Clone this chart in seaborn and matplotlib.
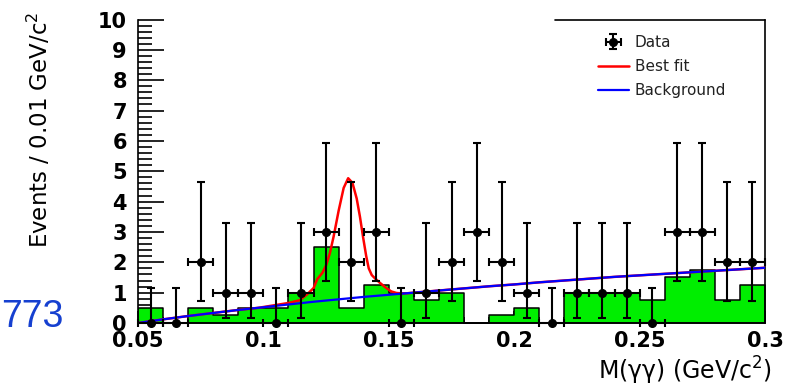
import numpy as np
import matplotlib
matplotlib.use('Agg')
import matplotlib.pyplot as plt
import seaborn as sns
from matplotlib.ticker import MultipleLocator

# ---------------- data ----------------
bin_centers = [0.055, 0.065, 0.075, 0.085, 0.095, 0.105, 0.115, 0.125, 0.135,
               0.145, 0.155, 0.165, 0.175, 0.185, 0.195, 0.205, 0.215, 0.225,
               0.235, 0.245, 0.255, 0.265, 0.275, 0.285, 0.295]
data_counts = [0, 0, 2, 1, 1, 0, 1, 3, 2, 3, 0, 1, 2, 3, 2, 1, 0, 1, 1, 1, 0, 3, 3, 2, 2]
err_lo = [0.0, 0.0, 1.29, 0.83, 0.83, 0.0, 0.83, 1.63, 1.29, 1.63, 0.0, 0.83, 1.29,
          1.63, 1.29, 0.83, 0.0, 0.83, 0.83, 0.83, 0.0, 1.63, 1.63, 1.29, 1.29]
err_hi = [1.15, 1.15, 2.64, 2.30, 2.30, 1.15, 2.30, 2.92, 2.64, 2.92, 1.15, 2.30, 2.64,
          2.92, 2.64, 2.30, 1.15, 2.30, 2.30, 2.30, 1.15, 2.92, 2.92, 2.64, 2.64]
mc_counts = [0.5, 0.0, 0.5, 0.25, 0.5, 0.5, 1.0, 2.5, 0.5, 1.25, 1.0, 0.75, 1.0,
             0.0, 0.25, 0.5, 0.0, 1.0, 1.0, 1.0, 0.75, 1.5, 1.75, 0.75, 1.25]

bkg_x = [0.05, 0.06, 0.07, 0.08, 0.09, 0.10, 0.11, 0.12, 0.13, 0.14, 0.15, 0.16, 0.17,
         0.18, 0.19, 0.20, 0.21, 0.22, 0.23, 0.24, 0.25, 0.26, 0.27, 0.28, 0.29, 0.30]
bkg_y = [0.0, 0.12, 0.23, 0.33, 0.43, 0.52, 0.61, 0.70, 0.78, 0.86, 0.93, 1.00, 1.07,
         1.14, 1.21, 1.27, 1.34, 1.40, 1.46, 1.52, 1.57, 1.62, 1.67, 1.72, 1.77, 1.82]

fit_x = [0.05, 0.06, 0.07, 0.08, 0.09, 0.098, 0.104, 0.110, 0.1145, 0.1175, 0.1200,
         0.1215, 0.1235, 0.1250, 0.1265, 0.1280, 0.1300, 0.1320, 0.1338, 0.1355,
         0.1372, 0.1385, 0.1398, 0.1410, 0.1420, 0.1432, 0.1445, 0.1465, 0.1490,
         0.1510, 0.1530, 0.1560, 0.16, 0.17, 0.18, 0.19, 0.20, 0.21, 0.22, 0.23,
         0.24, 0.25, 0.26, 0.27, 0.28, 0.29, 0.30]
fit_y = [0.0, 0.12, 0.23, 0.33, 0.43, 0.50, 0.58, 0.66, 0.75, 0.95, 1.15,
         1.45, 1.65, 1.90, 2.30, 2.85, 3.70, 4.45, 4.77, 4.62,
         4.10, 3.50, 2.80, 2.20, 1.80, 1.58, 1.47, 1.32, 1.15,
         1.04, 0.99, 0.97, 1.00, 1.07, 1.14, 1.21, 1.27, 1.34, 1.40, 1.46,
         1.52, 1.57, 1.62, 1.67, 1.72, 1.77, 1.82]

bin_edges = [0.05, 0.06, 0.07, 0.08, 0.09, 0.10, 0.11, 0.12, 0.13, 0.14, 0.15, 0.16,
             0.17, 0.18, 0.19, 0.20, 0.21, 0.22, 0.23, 0.24, 0.25, 0.26, 0.27, 0.28,
             0.29, 0.30]
bin_half_width = 0.005

x_ticks = [0.05, 0.1, 0.15, 0.2, 0.25, 0.3]
x_tick_labels = ['0.05', '0.1', '0.15', '0.2', '0.25', '0.3']
y_ticks = [0, 1, 2, 3, 4, 5, 6, 7, 8, 9, 10]

# ---------------- style ----------------
sns.set_theme(style='ticks')
plt.rcParams['font.family'] = ['DejaVu Sans']
plt.rcParams['mathtext.fontset'] = 'dejavusans'

W, H = 786, 388
fig = plt.figure(figsize=(W / 100, H / 100), dpi=100)
ax = fig.add_axes([138 / W, 65 / H, 627 / W, 303.5 / H])

# histogram (green, step outline)
sns.histplot(x=bin_centers, weights=mc_counts, bins=bin_edges, element='step',
             fill=True, facecolor='#00ee00', edgecolor='black', linewidth=1.1,
             alpha=1, ax=ax, zorder=2)

# fit and background curves
sns.lineplot(x=fit_x, y=fit_y, color='#ff0000', linewidth=1.8, estimator=None,
             sort=False, ax=ax, label='Best fit', zorder=3)
sns.lineplot(x=bkg_x, y=bkg_y, color='#0000ff', linewidth=1.6, estimator=None,
             sort=False, ax=ax, label='Background', zorder=4)

# data points
ax.errorbar(bin_centers, data_counts, xerr=bin_half_width, yerr=[err_lo, err_hi],
            fmt='o', color='black', ms=5.5, lw=1.5, capsize=3, capthick=1.5,
            clip_on=False, zorder=6, label='Data')

ax.set_xlim(0.05, 0.3)
ax.set_ylim(0, 10)
ax.set_xticks(x_ticks)
ax.set_xticklabels(x_tick_labels)
ax.set_yticks(y_ticks)
ax.set_yticklabels([str(v) for v in y_ticks])
ax.xaxis.set_minor_locator(MultipleLocator(0.01))
ax.yaxis.set_minor_locator(MultipleLocator(0.2))
ax.tick_params(axis='both', which='both', direction='in', color='black',
               width=1.2, labelcolor='black')
ax.tick_params(axis='y', which='major', length=19, pad=8)
ax.tick_params(axis='y', which='minor', length=10)
ax.tick_params(axis='x', which='major', length=9, pad=6)
ax.tick_params(axis='x', which='minor', length=4.5)
for lab in ax.get_xticklabels() + ax.get_yticklabels():
    lab.set_fontsize(15)
    lab.set_fontweight('bold')

for side in ['left', 'bottom', 'right']:
    ax.spines[side].set_visible(True)
    ax.spines[side].set_linewidth(1.2)
    ax.spines[side].set_color('black')
ax.spines['top'].set_visible(False)
ax.plot([(555 - 138) / 627, 1.0], [1.0, 1.0], transform=ax.transAxes,
        color='black', lw=1.2, clip_on=False)
ax.set_facecolor('white')
ax.grid(False)

# axis labels
ax.set_ylabel('Events / 0.01 GeV/c$^{2}$', fontsize=16.5, color='black')
ax.yaxis.set_label_coords((39 - 138) / 627, (323 - 130) / 303.5)
ax.yaxis.label.set_verticalalignment('center')
ax.set_xlabel('M(γγ) (GeV/c$^{2}$)', fontsize=17, color='black', ha='right')
ax.xaxis.set_label_coords((772 - 138) / 627, (323 - 371) / 303.5)
ax.xaxis.label.set_verticalalignment('center')

# legend
handles, labels = ax.get_legend_handles_labels()
order = [labels.index('Data'), labels.index('Best fit'), labels.index('Background')]
leg = ax.legend([handles[i] for i in order], [labels[i] for i in order],
                loc='upper left', bbox_to_anchor=((598 - 138) / 627, (323 - 35) / 303.5),
                frameon=False, fontsize=11, handlelength=2.0, handletextpad=0.4,
                labelspacing=0.6, borderpad=0, borderaxespad=0)
for t in leg.get_texts():
    t.set_color('#222222')

# partially visible text at left edge
fig.text(1 / W, 1 - 327 / H, '773', ha='left', va='baseline', fontsize=27,
         color='#1640d0', family='Liberation Sans')

fig.savefig('out.png', dpi=100)
